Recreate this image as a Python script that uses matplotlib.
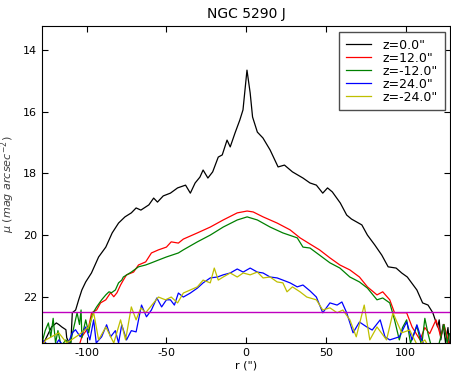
import matplotlib
matplotlib.use('Agg')
import matplotlib.pyplot as plt

# surface brightness cuts along r
r_z0 = [-128, -125, -122, -119, -117.5, -115.6, -113, -112.5, -110, -109, -106.9, -105, -103,
        -100.6, -97, -92.5, -88, -84, -80, -76, -72, -69, -66, -61, -58, -55.6, -52, -47.5, -43,
        -38, -35, -32, -29, -27, -24, -21, -17.5, -15, -12, -10, -7, -4, -2, 0.5, 2.5, 4, 7, 10.5,
        15, 20, 24, 29, 35.6, 40, 44, 48, 51, 54, 59, 63, 66, 72.5, 76, 80.6, 85, 89, 94, 97.5,
        101, 107, 110.6, 114, 117, 118.5, 120, 121, 122, 123.5, 125, 126.5, 127.5]
mu_z0 = [23.6, 23.3, 22.98, 22.85, 22.9, 22.98, 23.07, 23.33, 23.6, 22.52, 22.43, 22.1, 21.78,
         21.52, 21.23, 20.71, 20.39, 19.93, 19.61, 19.41, 19.28, 19.12, 19.19, 19.02, 18.8, 18.93,
         18.73, 18.64, 18.47, 18.38, 18.64, 18.31, 18.12, 17.89, 18.15, 17.95, 17.47, 17.4, 16.92,
         17.14, 16.69, 16.27, 15.94, 14.65, 15.39, 16.17, 16.66, 16.85, 17.24, 17.79, 17.73, 17.95,
         18.15, 18.31, 18.38, 18.64, 18.47, 18.6, 18.96, 19.35, 19.48, 19.67, 20.0, 20.32, 20.65,
         21.03, 21.07, 21.23, 21.36, 21.78, 22.2, 22.27, 22.52, 22.75, 22.98, 22.75, 23.4, 22.9,
         23.5, 23.0, 23.6]

r_z12 = [-128, -126, -120, -115, -110, -106, -103, -98.75, -96.9, -93.75, -91.3, -88, -85, -83,
         -81, -78.75, -77, -75, -70.6, -67.5, -63, -59.4, -55, -50, -47, -42.5, -39.4, -30.6,
         -22.5, -14.4, -5.6, 0.6, 4.4, 10.6, 19.4, 27.5, 33.75, 40, 46, 52.5, 58.75, 65, 71, 76,
         82, 85.6, 90, 93, 96, 100.6, 104, 109, 112, 115, 119, 122, 124, 127]
mu_z12 = [23.3, 23.8, 23.7, 23.9, 23.6, 23.8, 23.3, 22.98, 22.52, 22.43, 22.2, 22.1, 21.87, 22.0,
          21.87, 21.62, 21.46, 21.29, 21.2, 20.97, 20.87, 20.58, 20.48, 20.39, 20.22, 20.26, 20.13,
          19.93, 19.74, 19.51, 19.28, 19.22, 19.25, 19.41, 19.61, 19.83, 20.09, 20.29, 20.48,
          20.74, 20.97, 21.13, 21.36, 21.68, 21.94, 21.84, 22.1, 22.52, 22.52, 22.52, 22.98, 23.4,
          23.0, 23.2, 22.75, 23.3, 22.9, 23.5]

r_zm12 = [-128, -126, -124, -122.5, -121, -119.5, -118, -116, -113, -110.6, -108, -106, -104.5,
          -103.5, -103, -100.6, -98.75, -96.9, -95.6, -93.75, -90.6, -88, -86, -84.4, -82, -80,
          -78, -77, -72, -67.5, -63, -59.4, -55, -50, -42.5, -39.4, -30.6, -22.5, -14.4, -5.6, 0.6,
          7, 15, 23, 32, 35.6, 40, 46, 52.5, 58.75, 65, 71, 76, 82, 85.6, 90, 93, 96, 98, 100.6,
          103, 107, 110, 112, 114, 116, 120, 124, 126, 127.5]
mu_zm12 = [23.5, 23.1, 22.85, 23.3, 22.7, 23.5, 23.1, 23.6, 23.4, 23.6, 22.98, 22.52, 22.9, 22.43,
           23.33, 22.75, 23.17, 22.65, 22.49, 22.33, 22.1, 21.94, 21.84, 21.87, 21.78, 21.55,
           21.46, 21.36, 21.2, 21.03, 20.97, 20.9, 20.81, 20.71, 20.58, 20.48, 20.22, 20.0, 19.74,
           19.51, 19.41, 19.51, 19.74, 19.93, 20.09, 20.39, 20.42, 20.65, 20.9, 21.07, 21.36,
           21.52, 21.72, 22.1, 22.04, 22.2, 22.75, 23.4, 23.0, 22.75, 23.5, 22.95, 23.6, 22.7,
           23.2, 23.6, 23.7, 22.9, 23.5, 23.2]

r_z24 = [-128, -125.6, -122, -117.5, -113, -109, -107, -104, -100.6, -98, -95.6, -94, -90.6,
         -87.5, -85, -82, -80, -78, -75, -72, -69, -65.6, -62.5, -59.4, -56, -53, -50, -47.5, -45,
         -42.5, -39.4, -35, -30.6, -27, -22.5, -18, -14.4, -10, -5.6, -1.9, 2.5, 7, 10.6, 15,
         19.4, 23, 27.5, 32, 35.6, 40, 44, 48, 52.5, 57, 60, 63, 67, 71, 75.6, 79, 84, 87, 90, 96,
         100.6, 104, 107, 110, 114, 120, 127]
mu_z24 = [23.4, 23.5, 23.8, 23.4, 23.7, 23.17, 23.07, 23.3, 22.98, 23.4, 22.75, 23.5, 23.3, 22.91,
          23.3, 23.1, 23.5, 22.91, 23.4, 23.1, 23.14, 22.27, 22.65, 22.43, 22.04, 22.33, 22.1,
          22.1, 22.27, 21.88, 22.01, 21.88, 21.72, 21.55, 21.39, 21.36, 21.29, 21.23, 21.1, 21.2,
          21.07, 21.2, 21.23, 21.36, 21.39, 21.46, 21.55, 21.68, 21.62, 21.81, 22.01, 22.52, 22.2,
          22.27, 22.17, 22.52, 23.17, 22.82, 22.98, 23.08, 22.75, 23.3, 23.4, 23.3, 22.82, 23.4,
          22.91, 23.4, 23.8, 23.7, 23.9]

r_zm24 = [-128, -125.6, -117.5, -112.5, -105, -98.75, -95.6, -92.5, -88, -83, -78.75, -75.6, -72,
          -69, -66, -63, -58, -55, -50.6, -47, -43, -39.4, -35, -30.6, -27, -22.5, -20, -17.5,
          -14.4, -10, -5.6, -1.9, 2.5, 7, 10.6, 15, 19.4, 23, 25.6, 29, 33.75, 38, 44, 48, 52.5,
          57, 60.6, 65, 69, 74, 77.5, 82, 88, 92, 97.5, 102.5, 107.5, 112, 116, 122, 128]
mu_zm24 = [23.6, 23.4, 23.17, 23.5, 23.24, 22.98, 22.52, 23.4, 22.98, 23.5, 22.75, 23.4, 22.33,
           22.75, 22.36, 22.52, 22.2, 22.01, 22.1, 22.01, 22.2, 21.88, 21.78, 21.68, 21.46, 21.55,
           21.07, 21.46, 21.36, 21.23, 21.36, 21.23, 21.29, 21.2, 21.39, 21.36, 21.52, 21.55,
           21.84, 21.68, 21.84, 22.01, 22.1, 22.43, 22.36, 22.52, 22.43, 22.75, 23.3, 22.27, 23.4,
           22.98, 23.4, 22.52, 23.17, 23.08, 23.6, 23.4, 23.8, 23.7, 23.9]

series = [
    (r_z0, mu_z0, 'k', 'z=0.0"'),
    (r_z12, mu_z12, 'r', 'z=12.0"'),
    (r_zm12, mu_zm12, 'g', 'z=-12.0"'),
    (r_z24, mu_z24, 'b', 'z=24.0"'),
    (r_zm24, mu_zm24, 'y', 'z=-24.0"'),
]
mu_limit = 22.5

plt.rcParams['axes.unicode_minus'] = False
plt.rcParams['font.family'] = 'DejaVu Sans'

fig = plt.figure(figsize=(4.51, 3.72), dpi=100)
ax = fig.add_axes([0.0931, 0.078, 0.9055, 0.852])

for r, mu, col, lab in series:
    ax.plot(r, mu, color=col, lw=0.9, label=lab)
ax.axhline(mu_limit, color='m', lw=1.0)

ax.set_xlim(-128, 128)
ax.set_ylim(23.5, 13.22)
ax.set_xticks([-100, -50, 0, 50, 100])
ax.set_yticks([14, 16, 18, 20, 22])
ax.tick_params(direction='in', top=True, right=True, length=4, labelsize=8)

ax.set_title('NGC 5290 J', fontsize=10)
ax.set_xlabel('r (")', fontsize=8, labelpad=2)
ax.set_ylabel(r'$\mu\ (mag\ arcsec^{-2})$', fontsize=8, color='0.25')

leg = ax.legend(loc='upper right', fontsize=9, handlelength=2.0, handletextpad=0.9,
                labelspacing=0.0, borderpad=0.55, borderaxespad=0.45,
                fancybox=False, framealpha=1)
leg.get_frame().set_edgecolor('0.3')

fig.savefig('out.png', dpi=100)
